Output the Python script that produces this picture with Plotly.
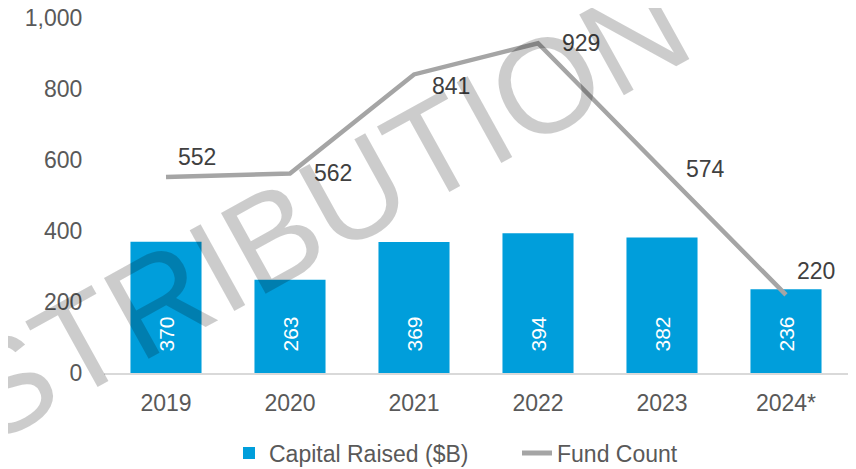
import plotly.graph_objects as go

years = ["2019", "2020", "2021", "2022", "2023", "2024*"]
capital_raised = [370, 263, 369, 394, 382, 236]
fund_count = [552, 562, 841, 929, 574, 220]
y_ticks = [0, 200, 400, 600, 800, 1000]
y_tick_labels = ["0", "200", "400", "600", "800", "1,000"]

FONT = "Liberation Sans, Arial, sans-serif"
TXT = "#595959"
FS = 23

# page body has an 8px margin, so the figure is drawn 8px smaller and offset
W, H = 848, 461
L, T, R, B = 96, 10, 8, 96
PW, PH = W - L - R, H - T - B

fig = go.Figure()
fig.add_trace(go.Bar(
    x=years, y=capital_raised, name="Capital Raised ($B)",
    marker=dict(color="#009EDB", line=dict(width=0)),
))
fig.add_trace(go.Scatter(
    x=years, y=fund_count, name="Fund Count", mode="lines",
    line=dict(color="#A5A5A5", width=4.5),
))

# bar value labels (rotated, near bar base)
for i, v in enumerate(capital_raised):
    fig.add_annotation(x=i, y=0, text=str(v), showarrow=False, textangle=-90,
                       xanchor="center", yanchor="bottom", yshift=19,
                       font=dict(size=21, color="white", family=FONT))

# line labels (x given as category index)
offsets = [(10, 20), (22, 0), (16, -12), (22, 0), (22, 0), (9, 24)]
for i, (yv, (dx, dy)) in enumerate(zip(fund_count, offsets)):
    fig.add_annotation(x=i, y=yv, text=str(yv), showarrow=False,
                       xanchor="left", yanchor="middle", xshift=dx, yshift=dy,
                       font=dict(size=FS, color="#404040", family=FONT))

# watermark
fig.add_annotation(xref="paper", yref="paper", x=(262 - 8 - L) / PW, y=(365 - (242 - 8)) / PH,
                   text="DISTRIBUTION", showarrow=False, textangle=-29,
                   xanchor="center", yanchor="middle",
                   font=dict(size=134, color="rgba(0,0,0,0.2)", family=FONT))

fig.update_layout(
    width=W, height=H,
    margin=dict(l=L, r=R, t=T, b=B, autoexpand=False),
    plot_bgcolor="white", paper_bgcolor="white",
    bargap=0.427,
    font=dict(family=FONT, size=FS, color=TXT),
    showlegend=True,
    legend=dict(orientation="h", x=(229 - 8 - L) / PW, xanchor="left",
                y=-(453 - 373) / PH, yanchor="middle",
                entrywidth=243, entrywidthmode="pixels",
                font=dict(size=FS, color=TXT), itemsizing="constant"),
    xaxis=dict(type="category", range=[-0.5, len(years) - 0.5], automargin=False,
               showline=True, linecolor="#D9D9D9", linewidth=1.5, showgrid=False,
               ticks="outside", ticklen=9, tickcolor="rgba(0,0,0,0)",
               tickfont=dict(size=FS, color=TXT)),
    yaxis=dict(range=[0, 1000], tickvals=y_ticks, ticktext=y_tick_labels, automargin=False,
               showgrid=False, zeroline=False, showline=False, ticklabeloverflow="allow",
               ticks="outside", ticklen=16, tickcolor="rgba(0,0,0,0)",
               tickfont=dict(size=FS, color=TXT)),
)

fig.write_html("out.html")
